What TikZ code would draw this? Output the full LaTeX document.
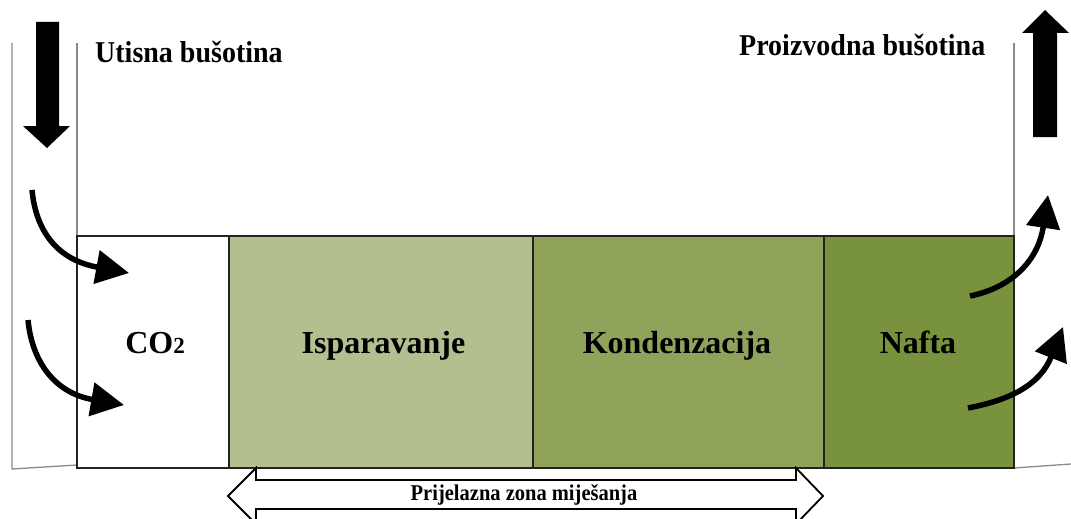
\documentclass[tikz,border=0pt]{standalone}
\usepackage{fontspec}
\setmainfont{Liberation Serif}
\usetikzlibrary{arrows.meta}
\definecolor{ispc}{HTML}{B3BF8F}
\definecolor{kondc}{HTML}{8FA35B}
\definecolor{naftc}{HTML}{78923D}
\definecolor{bordc}{HTML}{222222}
\definecolor{wellc}{HTML}{8A8A8A}
\begin{document}
\begin{tikzpicture}[x=1pt,y=-1pt,
  zone/.style={draw=bordc, line width=2pt, minimum height=232pt, inner sep=0pt, outer sep=0pt, anchor=north west},
  zlabel/.style={inner sep=0pt, anchor=base, font=\fontsize{32}{36}\selectfont\bfseries},
  head/.style={inner sep=0pt, anchor=base west, font=\fontsize{28}{32}\selectfont\bfseries},
  wellline/.style={draw=wellc, line width=1.3pt},
  flow/.style={line width=5.5pt, -{Triangle[length=33pt,width=33pt]}},
  bigarrow/.style={fill=black, draw=none}]
\useasboundingbox (0,0) rectangle (1071,519);

% wells
\draw[wellline] (12,43) -- (12,469) -- (77,465);
\draw[wellline] (77,43) -- (77,237);
\draw[wellline] (1014,43) -- (1014,237);
\draw[wellline] (1014,468) -- (1071,464);

% zones
\node[zone, fill=white, minimum width=152pt] (co2) at (77,236) {};
\node[zone, fill=ispc, minimum width=304pt] (isp) at (229,236) {};
\node[zone, fill=kondc, minimum width=291pt] (kond) at (533,236) {};
\node[zone, fill=naftc, minimum width=190pt] (nafta) at (824,236) {};

\node[zlabel] (lco2) at (155,353) {CO\raisebox{0pt}{\fontsize{23}{24}\selectfont 2}};
\node[zlabel] (lisp) at (383.5,353) {Isparavanje};
\node[zlabel] (lkond) at (677,353) {Kondenzacija};
\node[zlabel] (lnafta) at (918,353) {Nafta};

% headings
\node[head] (utis) at (95,63) {\scalebox{1}[1.08]{Utisna bušotina}};
\node[head] (proiz) at (739,56) {\scalebox{1}[1.08]{Proizvodna bušotina}};

% big vertical arrows
\fill[bigarrow] (36,22) -- (59,22) -- (59,126) -- (70,126) -- (47,148) -- (23,126) -- (36,126) -- cycle;
\fill[bigarrow] (1033,137) -- (1057,137) -- (1057,33) -- (1069,33) -- (1045,10) -- (1022,33) -- (1033,33) -- cycle;

% curved flow arrows
\coordinate (a1s) at (32,190); \coordinate (a1e) at (129,273);
\coordinate (a2s) at (28,320); \coordinate (a2e) at (124,405);
\coordinate (b1s) at (970,296); \coordinate (b1e) at (1048,195);
\coordinate (b2s) at (968,408); \coordinate (b2e) at (1063,327);
\draw[flow] (a1s) .. controls (36,232) and (58,260) .. (a1e);
\draw[flow] (a2s) .. controls (32,362) and (55,393) .. (a2e);
\draw[flow] (b1s) .. controls (1010,288) and (1038,262) .. (b1e);
\draw[flow] (b2s) .. controls (1010,400) and (1040,385) .. (b2e);

% transition zone double arrow
\draw[fill=white, draw=black, line width=1.8pt, line join=miter]
  (228,496) -- (256,468) -- (256,480) -- (796,480) -- (796,468) -- (823,496)
  -- (796,524) -- (796,509) -- (256,509) -- (256,524) -- cycle;
\node[inner sep=0pt, anchor=base, font=\fontsize{20.5}{22}\selectfont\bfseries] (prij) at (524,500) {\scalebox{1}[1.1]{Prijelazna zona miješanja}};
\end{tikzpicture}
\end{document}
